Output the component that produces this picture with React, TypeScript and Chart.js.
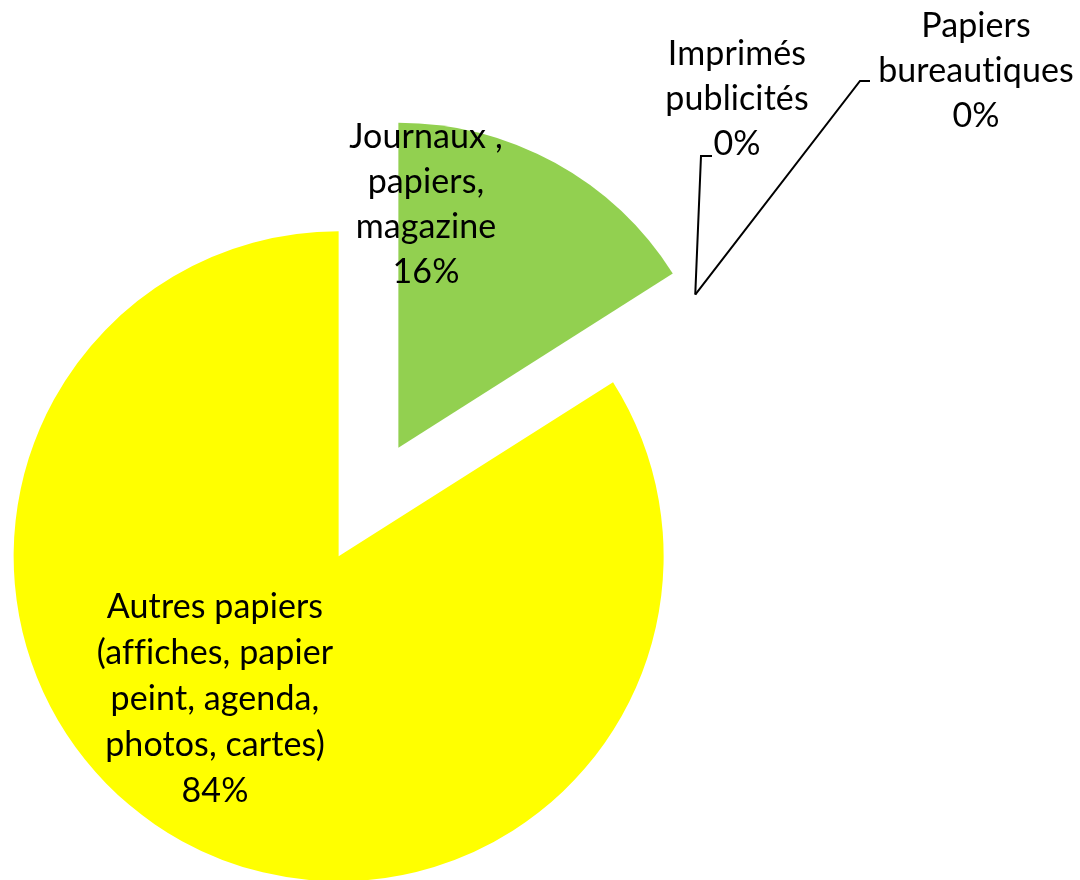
import React, { useEffect, useRef } from "react";
import { Chart, registerables } from "chart.js";

Chart.register(...registerables);

// ---- data ----
const categories = [
  "Journaux , papiers, magazine",
  "Imprimés publicités",
  "Papiers bureautiques",
  "Autres papiers (affiches, papier peint, agenda, photos, cartes)",
];
const labelLines = [
  ["Journaux ,", "papiers,", "magazine"],
  ["Imprimés", "publicités"],
  ["Papiers", "bureautiques"],
  ["Autres papiers", "(affiches, papier", "peint, agenda,", "photos, cartes)"],
];
const values = [16, 0, 0, 84];
const sliceColors = ["#92D050", "#5B9BD5", "#A5A5A5", "#FFFF00"];

// ---- label placement (text layout only) ----
const labelLayout = [
  { x: 426, y: 148, lh: 45, leader: null as null | number[][] },
  { x: 737, y: 65, lh: 45, leader: [[701, 156], [712, 156]] },
  { x: 976, y: 37, lh: 45, leader: [[860, 81], [870, 81]] },
  { x: 215, y: 618, lh: 46, leader: null as null | number[][] },
];

const FONT = "34px Lato, 'Open Sans', sans-serif";
const EXPLODE = 62; // pixel distance each slice is pulled out

// Chart.js translates an arc by offset/4, grows its radius by offset/4*fix and
// trims its angles; undo the growth and trimming so slices keep true geometry.
const explodeFix = {
  id: "explodeFix",
  afterDatasetUpdate(chart: any, args: any) {
    const meta = chart.getDatasetMeta(args.index);
    meta.data.forEach((arc: any) => {
      const off = (arc.options.offset || 0) / 4;
      const circ = arc.endAngle - arc.startAngle;
      const fix = 1 - Math.sin(Math.min(Math.PI, circ || 0));
      const radiusOffset = off * fix;
      const base = arc.outerRadius;
      arc.$baseRadius = base;
      arc.outerRadius = base - radiusOffset;
      if (circ > 0 && base > 0) {
        const d = radiusOffset / (2 * Math.PI * base);
        arc.startAngle -= d;
        arc.endAngle += d;
      }
    });
  },
};

const labelPlugin = {
  id: "pieLabels",
  afterDatasetsDraw(chart: any) {
    const ctx = chart.ctx;
    const meta = chart.getDatasetMeta(0);
    const total = values.reduce((a, b) => a + b, 0);
    ctx.save();
    meta.data.forEach((arc: any, i: number) => {
      const lay = labelLayout[i];
      if (lay.leader) {
        const mid = (arc.startAngle + arc.endAngle) / 2;
        const off = (arc.options.offset || 0) / 4;
        const r = (arc.$baseRadius ?? arc.outerRadius) + off;
        const px = arc.x + Math.cos(mid) * r;
        const py = arc.y + Math.sin(mid) * r;
        ctx.beginPath();
        ctx.strokeStyle = "#000";
        ctx.lineWidth = 2;
        ctx.moveTo(px, py);
        lay.leader.forEach((p) => ctx.lineTo(p[0], p[1]));
        ctx.stroke();
      }
      const lines = [...labelLines[i], Math.round((values[i] / total) * 100) + "%"];
      ctx.fillStyle = "#000";
      ctx.font = FONT;
      try {
        (ctx as any).letterSpacing = "0.1px";
      } catch (e) {}
      ctx.textAlign = "center";
      ctx.textBaseline = "alphabetic";
      lines.forEach((t, k) => ctx.fillText(t, lay.x, lay.y + k * lay.lh));
    });
    ctx.restore();
  },
};

export default function App() {
  const ref = useRef<HTMLCanvasElement>(null);
  useEffect(() => {
    document.body.style.margin = "0";
    const chart = new Chart(ref.current as HTMLCanvasElement, {
      type: "pie",
      data: {
        labels: categories,
        datasets: [
          {
            data: values,
            backgroundColor: sliceColors,
            borderWidth: 0,
            offset: EXPLODE * 4,
            clip: false,
          } as any,
        ],
      },
      options: {
        responsive: false,
        animation: false,
        devicePixelRatio: 1,
        radius: 325,
        layout: { padding: { left: 0, right: 343, top: 124, bottom: 0 } },
        plugins: { legend: { display: false }, tooltip: { enabled: false } },
      } as any,
      plugins: [explodeFix, labelPlugin],
    });
    return () => chart.destroy();
  }, []);
  return (
    <div style={{ width: 1080, height: 880, background: "#fff" }}>
      <canvas ref={ref} width={1080} height={880} style={{ display: "block" }} />
    </div>
  );
}
